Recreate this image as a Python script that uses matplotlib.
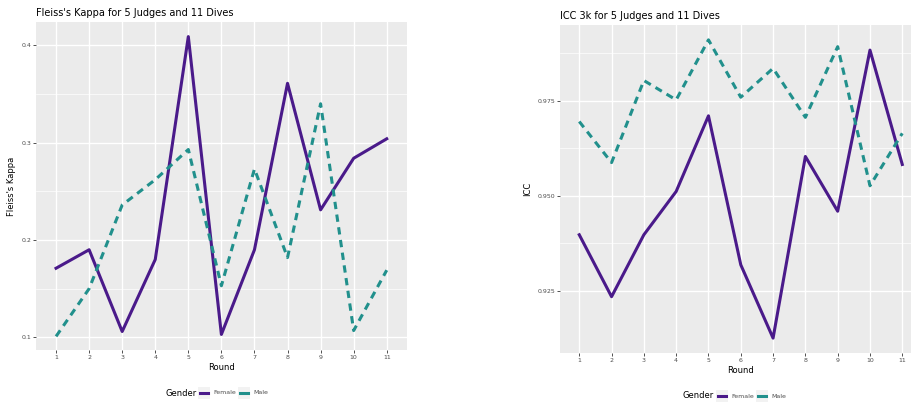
import numpy as np
import matplotlib
matplotlib.use("Agg")
import matplotlib.pyplot as plt
from matplotlib.lines import Line2D
from matplotlib.patches import Rectangle

rounds = list(range(1, 12))

# Fleiss's kappa per round
kappa_female = [0.171, 0.190, 0.106, 0.180, 0.409, 0.103, 0.190, 0.361, 0.231, 0.284, 0.304]
kappa_male = [0.101, 0.150, 0.236, 0.262, 0.293, 0.153, 0.273, 0.182, 0.340, 0.107, 0.169]

# ICC 3k per round
icc_female = [0.9397, 0.9234, 0.9397, 0.9511, 0.9710, 0.9318, 0.9125, 0.9603, 0.9459, 0.9883, 0.9582]
icc_male = [0.9695, 0.9587, 0.9803, 0.9752, 0.9910, 0.9759, 0.9835, 0.9706, 0.9892, 0.9526, 0.9664]

genders = ["Female", "Male"]

c_female = "#4a1a8a"
c_male = "#21908c"
panel_bg = "#ebebeb"
txt = "#4d4d4d"

W, H = 912, 403
fig = plt.figure(figsize=(W / 100, H / 100), dpi=100)

ax1 = fig.add_axes([0.0397, 0.1315, 0.4061, 0.8139])
ax2 = fig.add_axes([0.6139, 0.1233, 0.3967, 0.8146])


def style(ax, yticks, yminor, ylim, fmt):
    ax.set_facecolor(panel_bg)
    for s in ax.spines.values():
        s.set_visible(False)
    ax.set_xlim(0.4, 11.6)
    ax.set_ylim(*ylim)
    ax.set_xticks(rounds)
    ax.set_xticklabels([str(r) for r in rounds])
    ax.set_yticks(yticks)
    ax.set_yticklabels([fmt.format(v) for v in yticks])
    ax.set_yticks(yminor, minor=True)
    ax.grid(True, which="major", color="white", linewidth=1.0)
    ax.grid(True, which="minor", axis="y", color="white", linewidth=0.5)
    ax.set_axisbelow(True)
    ax.tick_params(which="major", length=2, width=0.6, color="#333333",
                   labelsize=4.5, labelcolor=txt, pad=1.5)
    ax.tick_params(which="minor", length=0)


style(ax1, [0.1, 0.2, 0.3, 0.4], [0.15, 0.25, 0.35], (0.087, 0.424), "{:.1f}")
style(ax2, [0.925, 0.950, 0.975], [0.9375, 0.9625, 0.9875], (0.9085, 0.9949), "{:.3f}")

for ax, f, m in [(ax1, kappa_female, kappa_male), (ax2, icc_female, icc_male)]:
    ax.plot(rounds, f, color=c_female, linewidth=2.2)
    ax.plot(rounds, m, color=c_male, linewidth=2.2, linestyle=(0, (2.4, 1.8)))
    ax.set_xlabel("Round", fontsize=6, color="black", labelpad=2)

ax1.set_ylabel("Fleiss's Kappa", fontsize=6, color="black", labelpad=4)
ax2.set_ylabel("ICC", fontsize=6, color="black", labelpad=4)

ax1.set_title("Fleiss's Kappa for 5 Judges and 11 Dives", fontsize=7, loc="left", pad=4, x=0.0)
ax2.set_title("ICC 3k for 5 Judges and 11 Dives", fontsize=7, loc="left", pad=4, x=0.0)


# ggplot-style horizontal legend below each panel (pixel positions)
def legend(x0, y):
    fy = 1 - y / H
    fig.text(x0 / W, fy, "Gender", fontsize=6, color="black", ha="left", va="center")
    kx = x0 + 34
    for g, col, ls in [(genders[0], c_female, "-"), (genders[1], c_male, "-")]:
        fig.patches.append(Rectangle(((kx - 1) / W, fy - 6 / H), 12 / W, 12 / H,
                                     transform=fig.transFigure, facecolor="#f2f2f2",
                                     edgecolor="none"))
        fig.add_artist(Line2D([(kx + 1) / W, (kx + 9) / W], [fy, fy], color=col,
                              linewidth=2.2, transform=fig.transFigure))
        fig.text((kx + 14) / W, fy, g, fontsize=4.5, color=txt, ha="left", va="center")
        kx += 40 if g == "Female" else 0


legend(165, 393)
legend(683, 396)

fig.savefig("out.png", dpi=100)
